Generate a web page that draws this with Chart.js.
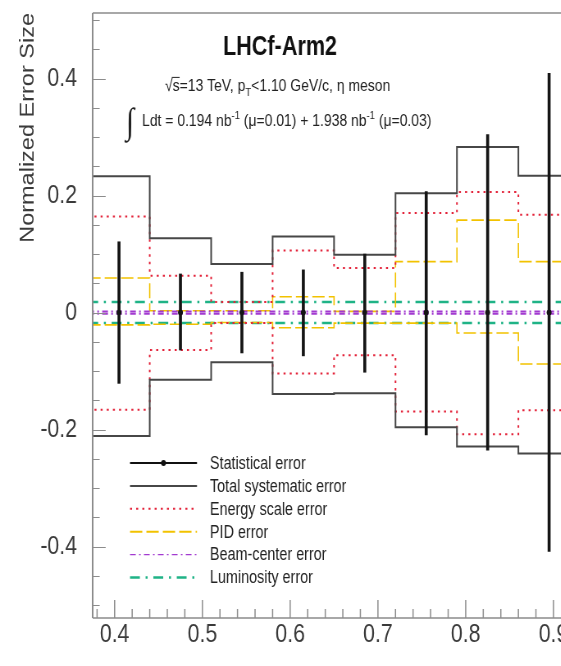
<!DOCTYPE html>
<html>
<head>
<meta charset="utf-8">
<script src="https://cdn.jsdelivr.net/npm/chart.js@4.4.1/dist/chart.umd.min.js"></script>
<style>
  html, body { margin: 0; padding: 0; background: #fff; overflow: hidden; }
  #wrap { width: 561px; height: 666px; overflow: hidden; }
  /* the plot is laid out wide and squeezed horizontally, like the narrow ROOT fonts */
  #errChart { transform: scaleX(0.82); transform-origin: 0 0; }
</style>
</head>
<body>
<div id="wrap"><canvas id="errChart" width="805" height="666"></canvas></div>
<script>
// x_F bins (edges and centres)
const binEdges = [0.37, 0.44, 0.51, 0.58, 0.65, 0.72, 0.79, 0.86, 0.93];
const binCenters = [0.405, 0.475, 0.545, 0.615, 0.685, 0.755, 0.825, 0.895];

// statistical error (up / down size)
const statUp   = [0.121, 0.066, 0.069, 0.073, 0.100, 0.207, 0.304, 0.409];
const statDown = [0.121, 0.064, 0.069, 0.074, 0.102, 0.209, 0.235, 0.408];

// systematic components, upper and lower band
const totalUp    = [0.233, 0.127, 0.083, 0.130, 0.099, 0.204, 0.283, 0.234];
const totalDown  = [-0.211, -0.115, -0.085, -0.139, -0.138, -0.196, -0.229, -0.241];
const energyUp   = [0.164, 0.063, 0.018, 0.106, 0.076, 0.170, 0.206, 0.167];
const energyDown = [-0.166, -0.064, -0.018, -0.104, -0.073, -0.169, -0.208, -0.167];
const pidUp      = [0.059, 0.003, 0.003, 0.027, 0.002, 0.087, 0.158, 0.087];
const pidDown    = [-0.021, -0.020, -0.017, -0.026, -0.018, -0.018, -0.035, -0.088];
const beamUp     = [0.002, 0.002, 0.002, 0.002, 0.002, 0.002, 0.002, 0.002];
const beamDown   = [-0.002, -0.002, -0.002, -0.002, -0.002, -0.002, -0.002, -0.002];
const lumiUp     = [0.018, 0.018, 0.018, 0.018, 0.018, 0.018, 0.018, 0.018];
const lumiDown   = [-0.018, -0.018, -0.018, -0.018, -0.018, -0.018, -0.018, -0.018];

// axis ticks
const xTickLabels = [0.4, 0.5, 0.6, 0.7, 0.8, 0.9];
const yTickLabels = [-0.4, -0.2, 0, 0.2, 0.4];

const SQUEEZE = 0.82;              // must match the css scaleX
const sx = v => v / SQUEEZE;       // page x -> canvas x

const FONT = '"Liberation Sans", Arial, Helvetica, sans-serif';

const colTotal = '#474747';
const colEnergy = '#e3243b';
const colPid = '#f2c200';
const colBeam = '#a23ad0';
const colLumi = '#1fb386';

const dashEnergy = [2.5, 5];
const dashPid = [15, 5];
const dashBeam = [7, 4, 2, 4];
const dashLumi = [12, 7, 2.5, 7];

// histogram outline: one point per left edge, last value repeated at the right edge
function stepPoints(vals) {
  return binEdges.map((e, i) => ({ x: e, y: vals[Math.min(i, vals.length - 1)] }));
}

function stepLine(vals, color, dash, width, order) {
  return {
    type: 'line',
    data: stepPoints(vals),
    stepped: true,
    borderColor: color,
    borderDash: dash,
    borderWidth: width,
    borderCapStyle: 'butt',
    borderJoinStyle: 'miter',
    pointRadius: 0,
    fill: false,
    order: order
  };
}

// legend entries drawn inside the frame
const legendLabels = ['Statistical error', 'Total systematic error', 'Energy scale error',
  'PID error', 'Beam-center error', 'Luminosity error'];

function drawRich(ctx, parts, x, y, size) {
  for (const [t, m] of parts) {
    const fs = (m === 'sub' || m === 'sup') ? size * 0.68 : size;
    ctx.font = fs + 'px ' + FONT;
    let dy = 0;
    if (m === 'sub') dy = size * 0.3;
    if (m === 'sup') dy = -size * 0.42;
    ctx.fillText(t, x, y + dy);
    const w = ctx.measureText(t).width;
    if (m === 'over') {
      ctx.beginPath();
      ctx.lineWidth = 1;
      ctx.moveTo(x - 1, y - size * 0.8);
      ctx.lineTo(x + w, y - size * 0.8);
      ctx.strokeStyle = ctx.fillStyle;
      ctx.stroke();
    }
    x += w;
  }
  return x;
}

function legendSample(ctx, i, x0, x1, y) {
  ctx.save();
  ctx.lineCap = 'butt';
  ctx.beginPath();
  ctx.moveTo(x0, y);
  ctx.lineTo(x1, y);
  if (i === 0) { ctx.strokeStyle = '#111'; ctx.lineWidth = 2; }
  if (i === 1) { ctx.strokeStyle = colTotal; ctx.lineWidth = 2; }
  if (i === 2) { ctx.strokeStyle = colEnergy; ctx.lineWidth = 2; ctx.setLineDash(dashEnergy); }
  if (i === 3) { ctx.strokeStyle = colPid; ctx.lineWidth = 2; ctx.setLineDash(dashPid); }
  if (i === 4) { ctx.strokeStyle = colBeam; ctx.lineWidth = 1.2; ctx.setLineDash(dashBeam); }
  if (i === 5) { ctx.strokeStyle = colLumi; ctx.lineWidth = 2.5; ctx.setLineDash(dashLumi); }
  ctx.stroke();
  ctx.setLineDash([]);
  if (i === 0) {
    ctx.fillStyle = '#111';
    ctx.beginPath();
    ctx.arc((x0 + x1) / 2, y, 3, 0, Math.PI * 2);
    ctx.fill();
  }
  ctx.restore();
}

// ROOT-like frame, inner ticks, labels and legend
const rootStyle = {
  id: 'rootStyle',
  afterDatasetsDraw(chart) {
    const { ctx, chartArea: a, scales: { x, y } } = chart;
    ctx.save();

    ctx.strokeStyle = '#8c8c8c';
    ctx.lineWidth = 1.6;
    ctx.beginPath();
    ctx.moveTo(a.left, a.top); ctx.lineTo(a.right, a.top);
    ctx.moveTo(a.left, a.bottom); ctx.lineTo(a.right, a.bottom);
    ctx.stroke();
    ctx.lineWidth = 2;
    ctx.beginPath();
    ctx.moveTo(a.left, a.bottom); ctx.lineTo(a.left, a.top);
    ctx.stroke();

    ctx.lineWidth = 1.2;
    ctx.beginPath();
    for (let k = -10; k <= 10; k++) {
      const v = k * 0.05;
      if (v < y.min || v > y.max) continue;
      const py = Math.round(y.getPixelForValue(v)) + 0.5;
      const len = (k % 4 === 0) ? sx(13) : sx(7);
      ctx.moveTo(a.left, py); ctx.lineTo(a.left + len, py);
    }
    ctx.stroke();
    ctx.lineWidth = 1.5;
    ctx.beginPath();
    for (let k = 19; k <= 50; k++) {
      const v = k * 0.02;
      if (v < x.min || v > x.max) continue;
      const px = x.getPixelForValue(v);
      const len = (k % 5 === 0) ? 18 : 9;
      ctx.moveTo(px, a.bottom); ctx.lineTo(px, a.bottom - len);
    }
    ctx.stroke();

    // title and run conditions
    ctx.fillStyle = '#111';
    ctx.textBaseline = 'alphabetic';
    ctx.textAlign = 'left';
    ctx.font = 'bold 27px ' + FONT;
    ctx.fillText('LHCf-Arm2', sx(223), 55, sx(114));

    ctx.fillStyle = '#222';
    drawRich(ctx, [['\u221A', ''], ['s', 'over'], ['=13 TeV, p', ''], ['T', 'sub'],
      ['<1.10 GeV/c, \u03B7 meson', '']], sx(165), 91, 17);

    ctx.font = '36px "Liberation Serif", "DejaVu Serif", serif';
    ctx.fillText('\u222B', sx(126), 133);
    drawRich(ctx, [['Ldt = 0.194 nb', ''], ['-1', 'sup'], [' (\u03BC=0.01) + 1.938 nb', ''],
      ['-1', 'sup'], [' (\u03BC=0.03)', '']], sx(142), 126, 17);

    // legend
    ctx.font = '17.5px ' + FONT;
    ctx.textBaseline = 'middle';
    legendLabels.forEach((t, i) => {
      const ly = 463 + 22.9 * i;
      legendSample(ctx, i, sx(130), sx(197), ly);
      ctx.fillStyle = '#222';
      ctx.fillText(t, sx(210), ly + 1);
    });

    ctx.restore();
  }
};

const datasets = [
  {
    type: 'bar',
    data: binCenters.map((c, i) => ({ x: c, y: [-statDown[i], statUp[i]] })),
    backgroundColor: '#151515',
    borderWidth: 0,
    barThickness: 3,
    order: 0
  },
  {
    type: 'line',
    data: binCenters.map(c => ({ x: c, y: 0 })),
    showLine: false,
    pointRadius: 3,
    pointBackgroundColor: '#151515',
    pointBorderWidth: 0,
    order: 0
  },
  stepLine(totalUp, colTotal, [], 2, 2),
  stepLine(totalDown, colTotal, [], 2, 2),
  stepLine(energyUp, colEnergy, dashEnergy, 2, 3),
  stepLine(energyDown, colEnergy, dashEnergy, 2, 3),
  stepLine(pidUp, colPid, dashPid, 1.6, 4),
  stepLine(pidDown, colPid, dashPid, 1.6, 4),
  stepLine(lumiUp, colLumi, dashLumi, 2.5, 5),
  stepLine(lumiDown, colLumi, dashLumi, 2.5, 5),
  stepLine(beamUp, colBeam, dashBeam, 2, 1),
  stepLine(beamDown, colBeam, dashBeam, 2, 1)
];

new Chart(document.getElementById('errChart'), {
  type: 'line',
  data: { datasets: datasets },
  options: {
    responsive: false,
    animation: false,
    events: [],
    layout: { padding: { top: 13, right: 23, left: 0, bottom: 0 } },
    plugins: { legend: { display: false }, tooltip: { enabled: false } },
    scales: {
      x: {
        type: 'linear',
        min: 0.375,
        max: 1.0,
        offset: false,
        grid: { display: false, drawTicks: false, offset: false },
        border: { display: false },
        ticks: {
          padding: 1,
          color: '#3a3a3a',
          font: { family: FONT, size: 26 },
          callback: v => v.toFixed(1)
        },
        afterBuildTicks: s => { s.ticks = xTickLabels.map(v => ({ value: v })); },
        afterFit: s => { s.height = 48; s.paddingLeft = 0; s.paddingRight = 0; }
      },
      y: {
        type: 'linear',
        min: -0.522,
        max: 0.512,
        grid: { display: false, drawTicks: false },
        border: { display: false },
        ticks: {
          padding: 19,
          color: '#3a3a3a',
          font: { family: FONT, size: 26 },
          callback: v => (v === 0 ? '0' : v.toFixed(1))
        },
        afterBuildTicks: s => { s.ticks = yTickLabels.map(v => ({ value: v })); },
        afterFit: s => { s.width = 113; s.paddingTop = 0; s.paddingBottom = 0; },
        title: {
          display: true,
          text: 'Normalized Error Size',
          align: 'end',
          color: '#3a3a3a',
          font: { family: FONT, size: 23.5 },
          padding: { top: 20, bottom: 0 }
        }
      }
    }
  },
  plugins: [rootStyle]
});
</script>
</body>
</html>
